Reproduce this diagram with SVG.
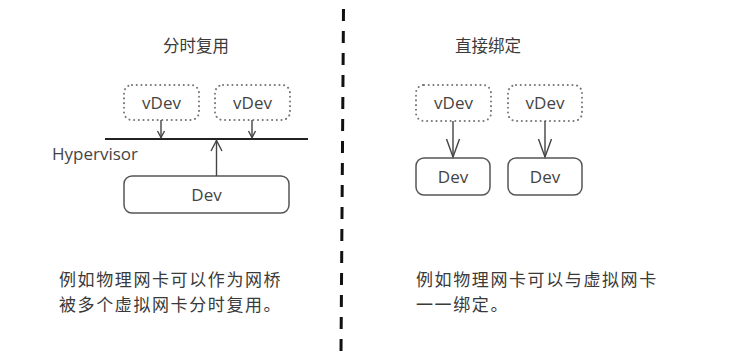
<svg xmlns="http://www.w3.org/2000/svg" width="733" height="352" viewBox="0 0 733 352">
  <style>
    .t { font-family: "Open Sans", "Noto Sans CJK SC", sans-serif; fill: #444; }
    .cjk { font-family: "Noto Sans CJK SC", "Noto Sans", sans-serif; fill: #3a3a3a; }
    .cap { font-size: 17px; letter-spacing: 1.6px; }
    .virt { fill: none; stroke: #777; stroke-width: 2; stroke-dasharray: 0.1 4.6; stroke-linecap: round; }
    .phys { fill: #fff; stroke: #555; stroke-width: 1.5; }
    .wire { fill: none; stroke: #444; stroke-width: 1.4; }
    .head { fill: none; stroke: #444; stroke-width: 1.4; stroke-linejoin: miter; }
  </style>
  <rect width="733" height="352" fill="#fff"/>

  <!-- divider -->
  <line x1="343.5" y1="9" x2="341" y2="352" stroke="#111" stroke-width="3" stroke-dasharray="12 10"/>

  <!-- titles -->
  <text class="cjk" x="196" y="52" font-size="16.5" text-anchor="middle">分时复用</text>
  <text class="cjk" x="488" y="52" font-size="16.5" text-anchor="middle">直接绑定</text>

  <!-- left: time-shared -->
  <g id="vdev-l1">
    <rect class="virt" x="124" y="85" width="75" height="35" rx="8"/>
    <text class="t" x="161.5" y="109" font-size="17" text-anchor="middle">vDev</text>
  </g>
  <g id="vdev-l2">
    <rect class="virt" x="215" y="85" width="75" height="35" rx="8"/>
    <text class="t" x="252.5" y="109" font-size="17" text-anchor="middle">vDev</text>
  </g>
  <g id="hypervisor">
    <line x1="105" y1="139" x2="308" y2="139" stroke="#222" stroke-width="1.8"/>
    <text class="t" x="52" y="160" font-size="17">Hypervisor</text>
  </g>
  <g id="dev-l">
    <rect class="phys" x="124" y="176" width="165" height="37" rx="8"/>
    <text class="t" x="206.5" y="201" font-size="17" text-anchor="middle">Dev</text>
  </g>

  <!-- right: direct binding -->
  <g id="vdev-r1">
    <rect class="virt" x="416" y="85" width="75" height="36" rx="8"/>
    <text class="t" x="453.5" y="109" font-size="17" text-anchor="middle">vDev</text>
  </g>
  <g id="vdev-r2">
    <rect class="virt" x="508" y="85" width="74" height="36" rx="8"/>
    <text class="t" x="545" y="109" font-size="17" text-anchor="middle">vDev</text>
  </g>
  <g id="dev-r1">
    <rect class="phys" x="416" y="158" width="74" height="37" rx="8"/>
    <text class="t" x="453" y="183" font-size="17" text-anchor="middle">Dev</text>
  </g>
  <g id="dev-r2">
    <rect class="phys" x="508" y="158" width="74" height="37" rx="8"/>
    <text class="t" x="545" y="183" font-size="17" text-anchor="middle">Dev</text>
  </g>

  <!-- connectors -->
  <g id="connectors">
    <line class="wire" x1="161" y1="120" x2="161" y2="138"/>
    <path class="head" d="M157.5 131 L161 137.5 L164.5 131"/>
    <line class="wire" x1="252" y1="120" x2="252" y2="138"/>
    <path class="head" d="M248.5 131 L252 137.5 L255.5 131"/>
    <line class="wire" x1="216.5" y1="176" x2="216.5" y2="140"/>
    <path class="head" d="M211 151 L216.5 140.5 L222 151"/>
    <line class="wire" x1="453" y1="121" x2="453" y2="157"/>
    <path class="head" d="M446.5 139 L453 157 L459.5 139"/>
    <line class="wire" x1="545" y1="121" x2="545" y2="157"/>
    <path class="head" d="M538.5 139 L545 157 L551.5 139"/>
  </g>

  <!-- captions -->
  <text class="cjk cap" x="59" y="286">例如物理网卡可以作为网桥</text>
  <text class="cjk cap" x="59" y="311">被多个虚拟网卡分时复用。</text>
  <text class="cjk cap" x="416" y="286">例如物理网卡可以与虚拟网卡</text>
  <text class="cjk cap" x="416" y="311">一一绑定。</text>
</svg>
